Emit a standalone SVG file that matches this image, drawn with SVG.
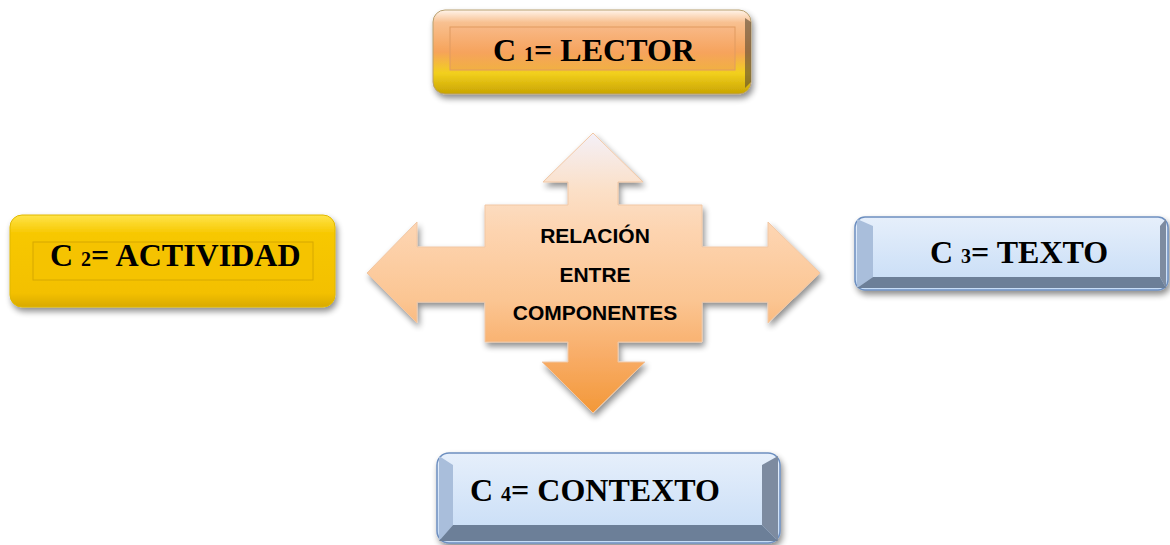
<svg xmlns="http://www.w3.org/2000/svg" width="1170" height="545" viewBox="0 0 1170 545">
<style>
.lbl{font-family:"Liberation Serif","Times New Roman",serif;font-weight:bold;fill:#000;font-size:32px}
.sub{font-size:20px}
.ctr{font-family:"Liberation Sans",Arial,sans-serif;font-weight:bold;fill:#000;font-size:21px;text-anchor:middle}
</style>
<defs>
<filter id="sh" x="-10%" y="-20%" width="125%" height="150%">
<feGaussianBlur in="SourceAlpha" stdDeviation="3"/>
<feOffset dx="2" dy="4" result="b"/>
<feComponentTransfer><feFuncA type="linear" slope="0.45"/></feComponentTransfer>
<feMerge><feMergeNode/><feMergeNode in="SourceGraphic"/></feMerge>
</filter>
<linearGradient id="gArrow" gradientUnits="userSpaceOnUse" x1="0" y1="133" x2="0" y2="413">
<stop offset="0" stop-color="#f4f0f8"/>
<stop offset="0.2" stop-color="#fbe0c8"/>
<stop offset="0.35" stop-color="#fdd4b0"/>
<stop offset="0.6" stop-color="#fbc592"/>
<stop offset="0.8" stop-color="#f8ac66"/>
<stop offset="1" stop-color="#f39838"/>
</linearGradient>
<linearGradient id="gC1" x1="0" y1="0" x2="0" y2="1">
<stop offset="0" stop-color="#fff4ea"/>
<stop offset="0.15" stop-color="#f8c090"/>
<stop offset="0.5" stop-color="#f6a35a"/>
<stop offset="0.75" stop-color="#f2d01e"/>
<stop offset="1" stop-color="#c9a400"/>
</linearGradient>
<linearGradient id="gC1i" x1="0" y1="0" x2="0" y2="1">
<stop offset="0" stop-color="#f8b886"/>
<stop offset="0.6" stop-color="#f6a35c"/>
<stop offset="1" stop-color="#f1b042"/>
</linearGradient>
<linearGradient id="gC2" x1="0" y1="0" x2="0" y2="1">
<stop offset="0" stop-color="#ffe44a"/>
<stop offset="0.2" stop-color="#f7c800"/>
<stop offset="0.85" stop-color="#f3c000"/>
<stop offset="1" stop-color="#d9aa00"/>
</linearGradient>
<linearGradient id="gBlue" x1="0" y1="0" x2="0" y2="1">
<stop offset="0" stop-color="#e6effb"/>
<stop offset="1" stop-color="#c6dcf6"/>
</linearGradient>
</defs>

<g id="connectors">
<path filter="url(#sh)" fill="url(#gArrow)" stroke="#f1c7a4" stroke-width="1" d="M593,133 L643,182 L618,182 L618,205 L702,205 L702,247 L768,247 L768,222 L820,273 L768,323 L768,302 L702,302 L702,342 L618,342 L618,362 L645,362 L593,413 L542,362 L568,362 L568,342 L485,342 L485,302 L417,302 L417,323 L367,273 L417,222 L417,247 L485,247 L485,205 L568,205 L568,182 L543,182 Z"/>
</g>

<g id="center">
<text class="ctr" x="595" y="243">RELACIÓN</text>
<text class="ctr" x="595" y="282">ENTRE</text>
<text class="ctr" x="595" y="320">COMPONENTES</text>
</g>

<g id="c1">
<rect x="433" y="10" width="318" height="84" rx="12" fill="url(#gC1)" stroke="#b8a070" stroke-width="1" filter="url(#sh)"/>
<path d="M745,18 L751,22 L751,82 L745,88 Z" fill="#5a4a30" opacity="0.6"/>
<rect x="450" y="27" width="285" height="43" fill="url(#gC1i)" stroke="#e09a60" stroke-width="1"/>
<text class="lbl" x="493" y="61">C <tspan class="sub">1</tspan>= LECTOR</text>
</g>

<g id="c2">
<rect x="10" y="215" width="325" height="92" rx="12" fill="url(#gC2)" stroke="#e0b800" stroke-width="1" filter="url(#sh)"/>
<rect x="33" y="242" width="280" height="38" fill="#f5c300" stroke="#d6a800" stroke-width="1"/>
<text class="lbl" x="50" y="266">C <tspan class="sub">2</tspan>= ACTIVIDAD</text>
</g>

<g id="c3">
<rect x="855" y="217" width="313" height="73" rx="10" fill="url(#gBlue)" stroke="#6d8fc0" stroke-width="1.5" filter="url(#sh)"/>
<path d="M857,219 L873,226 L873,277 L857,288 Z" fill="#a9bedb"/>
<path d="M1166,219 L1160,226 L1160,277 L1166,288 Z" fill="#7d8ba0"/>
<path d="M857,288 L873,277 L1160,277 L1166,288 Z" fill="#6c7f98"/>
<text class="lbl" x="930" y="263">C <tspan class="sub">3</tspan>= TEXTO</text>
</g>

<g id="c4">
<rect x="437" y="453" width="343" height="90" rx="12" fill="url(#gBlue)" stroke="#6d8fc0" stroke-width="1.5" filter="url(#sh)"/>
<path d="M439,456 L453,465 L453,525 L439,541 Z" fill="#a9bedb"/>
<path d="M778,456 L762,465 L762,525 L778,541 Z" fill="#7d8ba0"/>
<path d="M439,541 L453,525 L762,525 L778,541 Z" fill="#6c7f98"/>
<text class="lbl" x="470" y="501">C <tspan class="sub">4</tspan>= CONTEXTO</text>
</g>
</svg>
